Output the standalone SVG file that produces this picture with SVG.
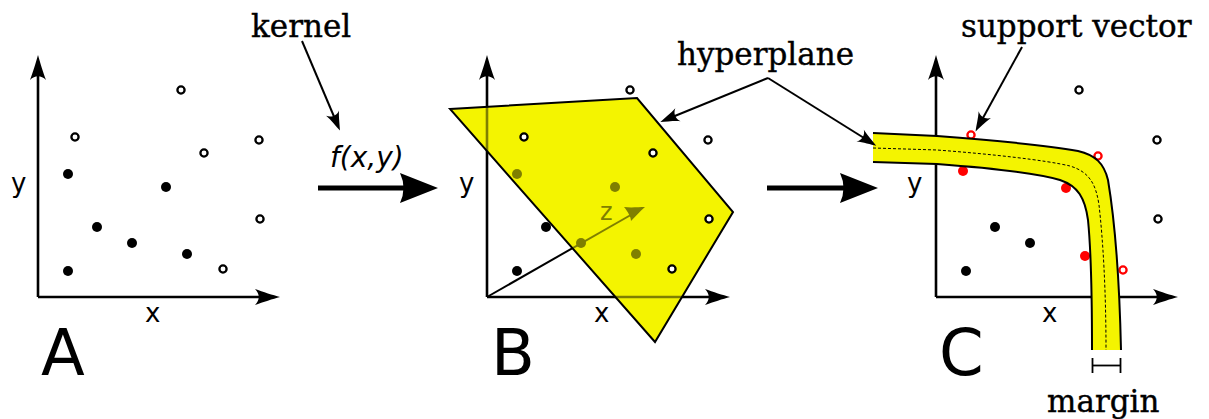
<svg xmlns="http://www.w3.org/2000/svg" width="1209" height="419" viewBox="0 0 1209 419">
  <style>
    .ax { stroke: #000; stroke-width: 2.6; fill: none; marker-end: url(#axHead); }
    .axo { stroke: #7f7f00; stroke-width: 2.6; fill: none; }
    .thin { stroke: #000; stroke-width: 2; fill: none; marker-end: url(#smHead); }
    .fd { fill: #000; }
    .od { fill: #fff; stroke: #000; stroke-width: 2.3; }
    .rf { fill: #ff0000; }
    .ro { fill: #fff; stroke: #ff0000; stroke-width: 2.3; }
    .ol { fill: #7f7f00; }
    .lab { font-family: "DejaVu Sans", "Liberation Sans", sans-serif; font-size: 26px; fill: #000; }
    .big { font-family: "DejaVu Sans", "Liberation Sans", sans-serif; font-size: 64px; fill: #000; }
    .ser { font-family: "DejaVu Serif", "Liberation Serif", serif; font-size: 31px; fill: #000; stroke: #000; stroke-width: 0.4; }
    .fx { font-family: "DejaVu Sans", "Liberation Sans", sans-serif; font-size: 28px; font-style: italic; fill: #000; }
  </style>
  <defs>
    <marker id="axHead" markerUnits="userSpaceOnUse" orient="auto" overflow="visible" refX="0" refY="0">
      <path d="M7,0 C0,-2 -10,-5 -18,-8 C-13,-3 -13,3 -18,8 C-10,5 0,2 7,0 Z" fill="#000"/>
    </marker>
    <marker id="smHead" markerUnits="userSpaceOnUse" orient="auto" overflow="visible" refX="0" refY="0">
      <path d="M5,0 C0,-2 -8,-4 -14,-7 C-10,-3 -10,3 -14,7 C-8,4 0,2 5,0 Z" fill="#000"/>
    </marker>
    <clipPath id="planeClip">
      <polygon points="450,109 637,98 733,212 655,342"/>
    </clipPath>
  </defs>

  <!-- Panel A -->
  <g id="panelA">
    <line class="ax" x1="38" y1="297" x2="38" y2="62"/>
    <line class="ax" x1="38" y1="297" x2="273" y2="297"/>
    <text class="lab" x="11" y="192">y</text>
    <text class="lab" x="145" y="322">x</text>
    <circle class="od" cx="181" cy="90" r="3.6"/>
    <circle class="od" cx="75" cy="137" r="3.6"/>
    <circle class="od" cx="259" cy="140" r="3.6"/>
    <circle class="od" cx="204" cy="153" r="3.6"/>
    <circle class="od" cx="260" cy="219" r="3.6"/>
    <circle class="od" cx="223" cy="269" r="3.6"/>
    <circle class="fd" cx="68" cy="174" r="5"/>
    <circle class="fd" cx="166" cy="187" r="5"/>
    <circle class="fd" cx="97" cy="227" r="5"/>
    <circle class="fd" cx="132" cy="243" r="5"/>
    <circle class="fd" cx="187" cy="254" r="5"/>
    <circle class="fd" cx="68" cy="271" r="5"/>
    <text class="big" x="41" y="375">A</text>
  </g>

  <!-- Panel B -->
  <g id="panelB">
    <line class="ax" x1="487" y1="297" x2="487" y2="62"/>
    <line class="ax" x1="487" y1="297" x2="723" y2="297"/>
    <line x1="487" y1="297" x2="641" y2="209" stroke="#000" stroke-width="2"/>
    <circle class="fd" cx="517" cy="174" r="5"/>
    <circle class="fd" cx="615" cy="187" r="5"/>
    <circle class="fd" cx="546" cy="227" r="5"/>
    <circle class="fd" cx="581" cy="243" r="5"/>
    <circle class="fd" cx="636" cy="254" r="5"/>
    <circle class="fd" cx="517" cy="271" r="5"/>
    <polygon points="450,109 637,98 733,212 655,342" fill="#f4f400"/>
    <g clip-path="url(#planeClip)">
      <line class="axo" x1="487" y1="297" x2="487" y2="62"/>
      <line class="axo" x1="487" y1="297" x2="723" y2="297"/>
      <line x1="487" y1="297" x2="636" y2="212" stroke="#7f7f00" stroke-width="2"/>
      <path d="M645,207 C639,207 631,208 624,207 C628,212 631,217 631,221 C636,216 640,211 645,207 Z" class="ol"/>
      <circle class="ol" cx="517" cy="174" r="5"/>
      <circle class="ol" cx="615" cy="187" r="5"/>
      <circle class="ol" cx="546" cy="227" r="5"/>
      <circle class="ol" cx="581" cy="243" r="5"/>
      <circle class="ol" cx="636" cy="254" r="5"/>
      <text class="lab" x="600" y="220" style="fill:#7f7f00;font-size:24px">z</text>
    </g>
    <polygon points="450,109 637,98 733,212 655,342" fill="none" stroke="#000" stroke-width="2"/>
    <circle class="od" cx="630" cy="90" r="3.6"/>
    <circle class="od" cx="524" cy="137" r="3.6"/>
    <circle class="od" cx="708" cy="140" r="3.6"/>
    <circle class="od" cx="653" cy="153" r="3.6"/>
    <circle class="od" cx="709" cy="219" r="3.6"/>
    <circle class="od" cx="672" cy="269" r="3.6"/>
    <text class="lab" x="459" y="192">y</text>
    <text class="lab" x="594" y="322">x</text>
    <text class="big" x="491" y="375">B</text>
  </g>

  <!-- Panel C -->
  <g id="panelC">
    <line class="ax" x1="936" y1="297" x2="936" y2="62"/>
    <line class="ax" x1="936" y1="297" x2="1171" y2="297"/>
    <circle class="od" cx="1079" cy="90" r="3.6"/>
    <circle class="od" cx="1157" cy="140" r="3.6"/>
    <circle class="od" cx="1158" cy="219" r="3.6"/>
    <circle class="fd" cx="995" cy="227" r="5"/>
    <circle class="fd" cx="1030" cy="243" r="5"/>
    <circle class="fd" cx="966" cy="271" r="5"/>
    <circle class="ro" cx="971" cy="135" r="3.6"/>
    <circle class="ro" cx="1098" cy="156" r="3.6"/>
    <circle class="ro" cx="1123" cy="270" r="3.6"/>
    <circle class="rf" cx="963" cy="171" r="5"/>
    <circle class="rf" cx="1066" cy="188" r="5"/>
    <circle class="rf" cx="1085" cy="256" r="5"/>
    <text class="lab" x="907" y="192">y</text>
    <text class="lab" x="1042" y="322">x</text>
    <text class="big" x="939" y="375">C</text>
  </g>

  <!-- Margin band -->
  <g id="band">
    <path d="M873,133 L937,136 C990,140 1050,146 1078,151 C1095,155 1104,163 1108,180 C1113,210 1119,260 1121,350 L1092,350 C1092,300 1091,250 1088,220 C1085,198 1078,186 1060,180 C1040,174 990,168 937,164 L873,162 Z" fill="#f4f400"/>
    <path d="M873,133 L937,136 C990,140 1050,146 1078,151 C1095,155 1104,163 1108,180 C1113,210 1119,260 1121,350" fill="none" stroke="#000" stroke-width="2"/>
    <path d="M873,162 L937,164 C990,168 1040,174 1060,180 C1078,186 1085,198 1088,220 C1091,250 1092,300 1092,350" fill="none" stroke="#000" stroke-width="2"/>
    <path d="M873,148 L937,150 C990,154 1045,160 1070,166 C1090,172 1096,185 1099,205 C1103,240 1106,290 1106,350" fill="none" stroke="#000" stroke-width="1" stroke-dasharray="3,2"/>
  </g>

  <g id="marginMark" stroke="#000" stroke-width="1.8" fill="none">
    <line x1="1092.5" y1="358" x2="1092.5" y2="373"/>
    <line x1="1120.5" y1="358" x2="1120.5" y2="373"/>
    <line x1="1092.5" y1="365.5" x2="1120.5" y2="365.5"/>
  </g>

  <!-- Connectors -->
  <g id="connectors">
    <line class="thin" x1="302" y1="41" x2="338" y2="126"/>
    <line class="thin" x1="768" y1="78" x2="665" y2="120"/>
    <line class="thin" x1="768" y1="78" x2="872" y2="143"/>
    <line class="thin" x1="1022" y1="47" x2="978" y2="127"/>
    <line x1="318" y1="188" x2="405" y2="188" stroke="#000" stroke-width="5"/>
    <path d="M438,188 L400,173 Q407,188 400,203 Z" fill="#000"/>
    <line x1="767" y1="188" x2="846" y2="188" stroke="#000" stroke-width="5"/>
    <path d="M878,188 L840,173 Q847,188 840,203 Z" fill="#000"/>
  </g>

  <!-- Labels -->
  <g id="labels">
    <text class="ser" x="251" y="37">kernel</text>
    <text class="fx" x="330" y="167">f(x,y)</text>
    <text class="ser" x="677" y="65">hyperplane</text>
    <text class="ser" x="961" y="37">support vector</text>
    <text class="ser" x="1047" y="412">margin</text>
  </g>
</svg>
